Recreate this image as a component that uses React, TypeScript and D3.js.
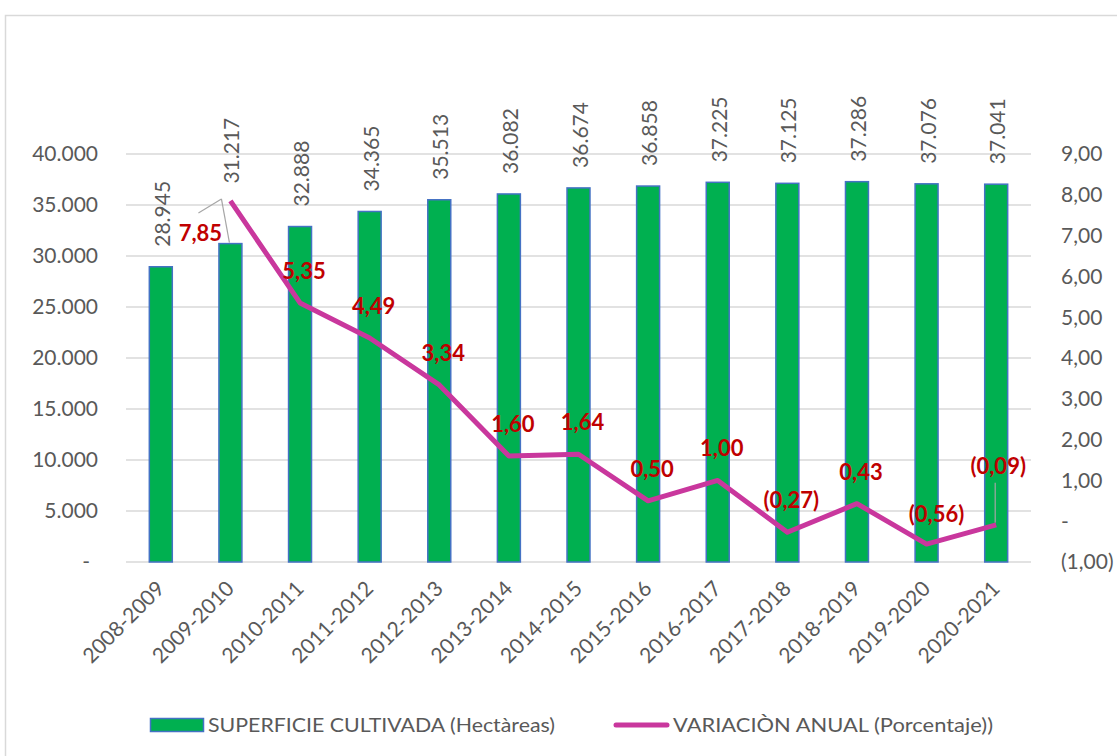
import React from 'react';
import * as d3 from 'd3';

const categories = ['2008-2009','2009-2010','2010-2011','2011-2012','2012-2013','2013-2014','2014-2015','2015-2016','2016-2017','2017-2018','2018-2019','2019-2020','2020-2021'];
const superficie = [28945, 31217, 32888, 34365, 35513, 36082, 36674, 36858, 37225, 37125, 37286, 37076, 37041];
const variacion: (number | null)[] = [null, 7.85, 5.35, 4.49, 3.34, 1.60, 1.64, 0.50, 1.00, -0.27, 0.43, -0.56, -0.09];
const leftTicks = [0, 5000, 10000, 15000, 20000, 25000, 30000, 35000, 40000];
const rightTicks = [-1, 0, 1, 2, 3, 4, 5, 6, 7, 8, 9];
const legendLabels = ['SUPERFICIE CULTIVADA (Hectàreas)', 'VARIACIÒN ANUAL (Porcentaje))'];

// label nudges (style)
const lineLabelOffset: [number, number][] = [
  [0, 0], [-30, 40], [4, -24], [4, -24], [4, -24], [4, -24], [4, -24], [4, -24], [4, -24], [4, -24], [4, -24], [10, -22], [2, -51],
];
const barLabelOffset = [-20, -60, -20, -20, -20, -20, -20, -20, -20, -20, -20, -20, -20];

const W = 1117, H = 756;
const FONT = 'Lato, "Open Sans", sans-serif';
const GRAY = '#595959';
const GREEN = '#00B050';
const BLUE = '#4472C4';
const MAGENTA = '#C9379D';
const RED = '#C00000';

const fmtThousands = (v: number) => (v === 0 ? '-' : d3.format(',')(v).replace(/,/g, '.'));
const fmtPct = (v: number) => {
  if (v === 0) return '-';
  const s = Math.abs(v).toFixed(2).replace('.', ',');
  return v < 0 ? `(${s})` : s;
};

export default function App() {
  const x = d3.scaleBand<string>().domain(categories).range([126, 1031]).paddingInner(0.67).paddingOuter(0.335);
  const yL = d3.scaleLinear().domain([0, 40000]).range([562, 154]);
  const yR = d3.scaleLinear().domain([-1, 9]).range([562, 154]);
  const cx = (c: string) => (x(c) as number) + x.bandwidth() / 2;

  const linePts = categories
    .map((c, i) => ({ c, v: variacion[i], i }))
    .filter((d) => d.v !== null) as { c: string; v: number; i: number }[];
  const line = d3.line<{ c: string; v: number }>().x((d) => cx(d.c)).y((d) => yR(d.v));

  const p1 = linePts[0];
  const p1x = cx(p1.c), p1y = yR(p1.v);
  const pl = linePts[linePts.length - 1];
  const plx = cx(pl.c), ply = yR(pl.v);

  return (
    <svg width={W} height={H} style={{ position: 'absolute', left: 0, top: 0, background: '#fff' }} fontFamily={FONT}>
      <rect x={0} y={0} width={W} height={H} fill="#fff" />
      <rect x={5.5} y={15.5} width={1200} height={800} fill="none" stroke="#d9d9d9" strokeWidth={1.5} />

      {/* gridlines */}
      {leftTicks.map((t) => (
        <line key={t} x1={126} x2={1031} y1={yL(t)} y2={yL(t)} stroke="#d9d9d9" strokeWidth={1.5} />
      ))}

      {/* left axis labels */}
      {leftTicks.map((t) => (
        <text key={t} x={t === 0 ? 90 : 98} y={yL(t)} dy="0.35em" textAnchor="end" fontSize={21} fill={GRAY}>
          {fmtThousands(t)}
        </text>
      ))}
      {/* right axis labels */}
      {rightTicks.map((t) => (
        <text key={t} x={1061} y={yR(t)} dy="0.35em" textAnchor="start" fontSize={21} fill={GRAY}>
          {fmtPct(t)}
        </text>
      ))}

      {/* bars */}
      {categories.map((c, i) => (
        <rect key={c} x={x(c)} y={yL(superficie[i])} width={x.bandwidth()} height={yL(0) - yL(superficie[i])}
          fill={GREEN} stroke={BLUE} strokeWidth={1.5} />
      ))}

      {/* bar labels */}
      {categories.map((c, i) => (
        <text key={c} transform={`translate(${cx(c) + 9},${yL(superficie[i]) + barLabelOffset[i]}) rotate(-90)`}
          fontSize={21} fill={GRAY} textAnchor="start">
          {fmtThousands(superficie[i])}
        </text>
      ))}

      {/* leader lines */}
      <line x1={p1x - 9} y1={p1y - 2} x2={p1x - 32} y2={p1y + 12} stroke="#a6a6a6" strokeWidth={1.2} />
      <line x1={p1x - 9} y1={p1y - 2} x2={p1x - 1} y2={yL(superficie[1]) - 1} stroke="#a6a6a6" strokeWidth={1.2} />
      <line x1={plx - 1} y1={ply - 2} x2={plx - 1} y2={ply - 42} stroke="#a6a6a6" strokeWidth={1.2} />

      {/* line */}
      <path d={line(linePts) || ''} fill="none" stroke={MAGENTA} strokeWidth={5} strokeLinejoin="round" />

      {/* line labels */}
      {linePts.map((d) => (
        <text key={d.c} x={cx(d.c) + lineLabelOffset[d.i][0]} y={yR(d.v) + lineLabelOffset[d.i][1]}
          textAnchor="middle" fontSize={22} fontWeight="bold" fill={RED}>
          {fmtPct(d.v)}
        </text>
      ))}

      {/* x labels */}
      {categories.map((c) => (
        <text key={c} transform={`translate(${cx(c) + 5},${590}) rotate(-45)`} textAnchor="end" fontSize={21} fill={GRAY}>
          {c}
        </text>
      ))}

      {/* legend */}
      <rect x={150.5} y={718.5} width={53} height={13} fill={GREEN} stroke={BLUE} strokeWidth={1.5} />
      <text x={208} y={732} fontSize={20} fill={GRAY} textLength={347} lengthAdjust="spacingAndGlyphs">{legendLabels[0]}</text>
      <line x1={616} x2={667} y1={725} y2={725} stroke={MAGENTA} strokeWidth={5} strokeLinecap="round" />
      <text x={673} y={732} fontSize={20} fill={GRAY} textLength={320} lengthAdjust="spacingAndGlyphs">{legendLabels[1]}</text>
    </svg>
  );
}
